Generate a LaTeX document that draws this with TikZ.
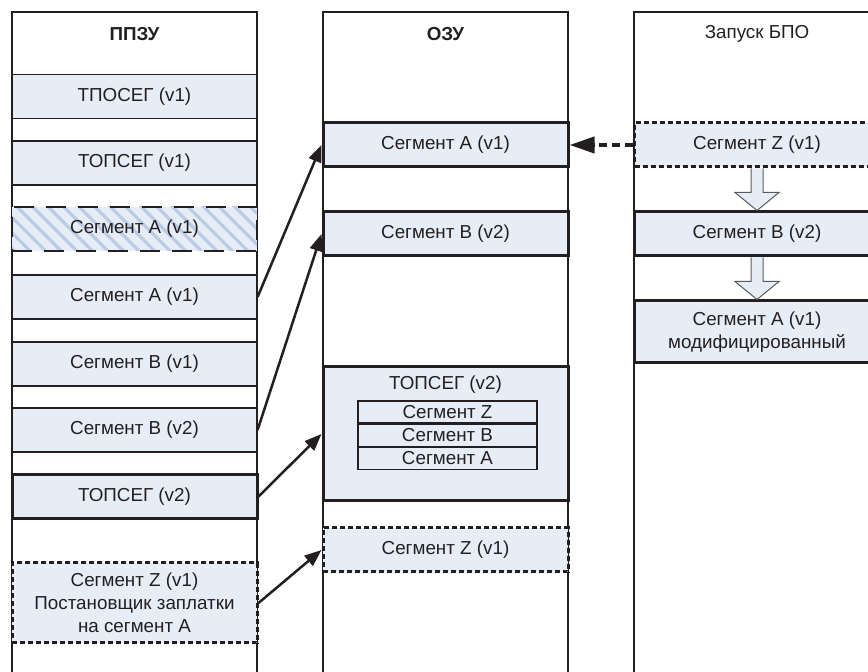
\documentclass[tikz,border=0pt]{standalone}
\usepackage{fontspec}
\setmainfont{Liberation Sans}
\usetikzlibrary{arrows.meta, positioning, calc, patterns.meta}
\definecolor{segfill}{HTML}{E7EDF6}
\definecolor{hatchcolor}{HTML}{BACBE3}
\definecolor{inkcolor}{HTML}{231F20}
\definecolor{blockcolor}{HTML}{5A5A5A}

\begin{document}
\begin{tikzpicture}[x=0.5pt, y=-0.5pt,
    every node/.style={font=\fontsize{9.4}{11.5}\selectfont, text=inkcolor},
    seg/.style={draw=inkcolor, line width=0.6pt, fill=segfill, inner sep=0pt,
                minimum width=122.5pt, minimum height=22pt, align=center},
    segbold/.style={seg, line width=1.5pt},
    segdot/.style={seg, line width=1.5pt, dash pattern=on 2.5pt off 1.5pt},
    seghatch/.style={seg, line width=1.1pt, dash pattern=on 10pt off 6pt,
                     preaction={fill=segfill},
                     pattern={Lines[angle=-45, distance=5.5pt, line width=1.6pt]},
                     pattern color=hatchcolor},
    cell/.style={draw=inkcolor, line width=0.6pt, fill=segfill, inner sep=0pt,
                 minimum width=89.5pt, minimum height=11pt},
    col/.style={draw=inkcolor, line width=0.6pt},
    arr/.style={-{Triangle[length=8.5pt, width=6.5pt]}, line width=1.25pt, draw=inkcolor},
    darr/.style={-{Triangle[length=12.5pt, width=8pt]}, line width=2pt, draw=inkcolor,
                 dash pattern=on 4pt off 2.5pt},
    blockarr/.style={draw=blockcolor, line width=0.5pt, fill=segfill}
]
    \useasboundingbox (0,0) rectangle (868,672);

    % columns
    \draw[col] (12,700) |- (257,12) -- (257,700);
    \draw[col] (323,700) |- (568,12) -- (568,700);
    \draw[col] (634,700) |- (900,12);

    \node[font=\fontsize{9.4}{11.5}\selectfont\bfseries] (hrom) at (134.5,34) {ППЗУ};
    \node[font=\fontsize{9.4}{11.5}\selectfont\bfseries] (hram) at (445.5,34) {ОЗУ};
    \node (hrun) at (757,34) {Запуск БПО};

    % ППЗУ
    \node[seg] (rtpo) at (134.5,96.5) {ТПОСЕГ (v1)};
    \node[seg] (rtop) at (134.5,163) {ТОПСЕГ (v1)};
    \node[seghatch] (rold) at (134.5,229) {Сегмент A (v1)};
    \node[seg] (ra) at (134.5,297) {Сегмент A (v1)};
    \node[seg] (rb1) at (134.5,364) {Сегмент B (v1)};
    \node[seg] (rb2) at (134.5,430) {Сегмент B (v2)};
    \node[segbold] (rtop2) at (134.5,496.5) {ТОПСЕГ (v2)};
    \node[segdot, minimum height=40pt] (rz) at (134.5,603)
          {Сегмент Z (v1)\\Постановщик заплатки\\на сегмент A};

    % ОЗУ
    \node[segbold] (ma) at (445.5,145) {Сегмент A (v1)};
    \node[segbold] (mb) at (445.5,234) {Сегмент B (v2)};
    \node[segbold, minimum height=67pt] (mtop) at (445.5,434) {};
    \node (mtitle) at (445.5,385) {ТОПСЕГ (v2)};
    \node[cell] (cz) at (447.5,412) {Сегмент Z};
    \node[cell, below=0pt of cz] (cb) {Сегмент B};
    \node[cell, below=0pt of cb] (ca) {Сегмент A};
    \node[segdot] (mz) at (445.5,550) {Сегмент Z (v1)};

    % Запуск БПО
    \node[segdot] (bz) at (757,145) {Сегмент Z (v1)};
    \node[segbold] (bb) at (757,234) {Сегмент B (v2)};
    \node[segbold, minimum height=31pt] (ba) at (757,332)
          {Сегмент A (v1)\\модифицированный};

    % loading
    \draw[arr] (ra.east) -- (ma.west);
    \draw[arr] (rb2.east) -- (mb.west);
    \draw[arr] (rtop2.east) -- (mtop.west);
    \draw[arr] (rz.east) -- (mz.west);
    \draw[darr] (bz.west) -- (ma.east);

    % run order
    \draw[blockarr] ($(bz.south)+(-6,0)$) -- ($(bz.south)+(-6,24)$) -- ($(bz.south)+(-22,24)$)
        -- (bb.north) -- ($(bz.south)+(22,24)$) -- ($(bz.south)+(6,24)$) -- ($(bz.south)+(6,0)$);
    \draw[blockarr] ($(bb.south)+(-6,0)$) -- ($(bb.south)+(-6,24)$) -- ($(bb.south)+(-22,24)$)
        -- (ba.north) -- ($(bb.south)+(22,24)$) -- ($(bb.south)+(6,24)$) -- ($(bb.south)+(6,0)$);
\end{tikzpicture}
\end{document}
